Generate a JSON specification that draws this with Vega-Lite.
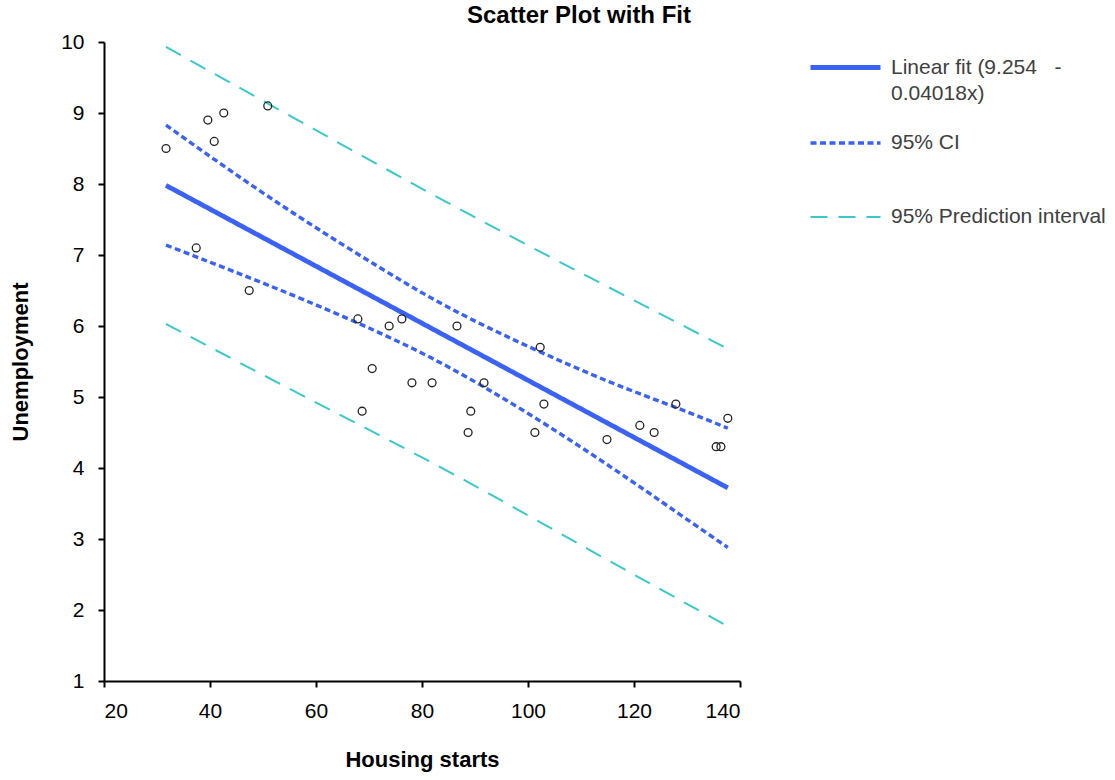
{
  "$schema": "https://vega.github.io/schema/vega-lite/v6.json",
  "width": 636,
  "height": 639,
  "autosize": {"type": "none"},
  "padding": {"left": 104, "top": 42, "right": 375, "bottom": 99},
  "background": "white",
  "title": {"text": "Scatter Plot with Fit", "anchor": "middle", "frame": "group", "dx": 157, "font": "Liberation Sans", "fontSize": 24, "fontWeight": "bold", "color": "black", "offset": 2},
  "config": {
    "view": {"stroke": null},
    "axis": {"domainColor": "black", "domainWidth": 2, "tickColor": "black", "tickWidth": 2, "tickSize": 6, "grid": false, "labelFont": "Liberation Sans", "labelFontSize": 21, "labelColor": "black", "titleFont": "Liberation Sans", "titleFontSize": 22, "titleFontWeight": "bold", "titleColor": "black"}
  },
  "datasets": {
    "points": [
      {"x": 31.7, "y": 8.5}, {"x": 39.6, "y": 8.9}, {"x": 42.6, "y": 9.0}, {"x": 40.8, "y": 8.6}, {"x": 50.9, "y": 9.1},
      {"x": 37.4, "y": 7.1}, {"x": 47.4, "y": 6.5}, {"x": 67.9, "y": 6.1}, {"x": 76.2, "y": 6.1}, {"x": 73.8, "y": 6.0},
      {"x": 70.6, "y": 5.4}, {"x": 68.7, "y": 4.8}, {"x": 78.1, "y": 5.2}, {"x": 81.9, "y": 5.2}, {"x": 86.6, "y": 6.0},
      {"x": 91.7, "y": 5.2}, {"x": 89.2, "y": 4.8}, {"x": 88.7, "y": 4.5}, {"x": 102.3, "y": 5.7}, {"x": 103.0, "y": 4.9},
      {"x": 101.3, "y": 4.5}, {"x": 114.9, "y": 4.4}, {"x": 121.1, "y": 4.6}, {"x": 123.8, "y": 4.5}, {"x": 127.9, "y": 4.9},
      {"x": 137.7, "y": 4.7}, {"x": 135.5, "y": 4.3}, {"x": 136.4, "y": 4.3}
    ],
    "lines": [
      {"series": "fit", "line": "fit", "x": 31.7, "y": 7.98}, {"series": "fit", "line": "fit", "x": 137.7, "y": 3.72},
      {"series": "ci", "line": "ciu", "x": 31.7, "y": 8.83}, {"series": "ci", "line": "ciu", "x": 44.4, "y": 8.16},
      {"series": "ci", "line": "ciu", "x": 58.0, "y": 7.48}, {"series": "ci", "line": "ciu", "x": 72.1, "y": 6.82},
      {"series": "ci", "line": "ciu", "x": 85.3, "y": 6.25}, {"series": "ci", "line": "ciu", "x": 100.4, "y": 5.70},
      {"series": "ci", "line": "ciu", "x": 115.5, "y": 5.21}, {"series": "ci", "line": "ciu", "x": 128.0, "y": 4.85},
      {"series": "ci", "line": "ciu", "x": 137.7, "y": 4.56},
      {"series": "ci", "line": "cil", "x": 31.7, "y": 7.14}, {"series": "ci", "line": "cil", "x": 44.4, "y": 6.77},
      {"series": "ci", "line": "cil", "x": 58.0, "y": 6.36}, {"series": "ci", "line": "cil", "x": 72.1, "y": 5.90},
      {"series": "ci", "line": "cil", "x": 85.3, "y": 5.41}, {"series": "ci", "line": "cil", "x": 100.4, "y": 4.75},
      {"series": "ci", "line": "cil", "x": 115.5, "y": 4.02}, {"series": "ci", "line": "cil", "x": 128.0, "y": 3.38},
      {"series": "ci", "line": "cil", "x": 137.7, "y": 2.88},
      {"series": "pi", "line": "piu", "x": 31.7, "y": 9.93}, {"series": "pi", "line": "piu", "x": 58.0, "y": 8.84},
      {"series": "pi", "line": "piu", "x": 85.0, "y": 7.73}, {"series": "pi", "line": "piu", "x": 112.0, "y": 6.67},
      {"series": "pi", "line": "piu", "x": 137.7, "y": 5.68},
      {"series": "pi", "line": "pil", "x": 31.7, "y": 6.03}, {"series": "pi", "line": "pil", "x": 58.0, "y": 5.00},
      {"series": "pi", "line": "pil", "x": 85.0, "y": 3.95}, {"series": "pi", "line": "pil", "x": 112.0, "y": 2.83},
      {"series": "pi", "line": "pil", "x": 137.7, "y": 1.77}
    ]
  },
  "layer": [
    {
      "data": {"name": "lines"},
      "mark": {"type": "line", "interpolate": "natural"},
      "encoding": {
        "x": {"field": "x", "type": "quantitative", "scale": {"domain": [20, 140], "nice": false, "zero": false},
              "axis": {"title": "Housing starts", "values": [20, 40, 60, 80, 100, 120, 140], "format": "d", "labelPadding": 13, "titlePadding": 28}},
        "y": {"field": "y", "type": "quantitative", "scale": {"domain": [1, 10], "nice": false, "zero": false},
              "axis": {"title": "Unemployment", "values": [1, 2, 3, 4, 5, 6, 7, 8, 9, 10], "format": "d", "labelPadding": 14, "titlePadding": 28}},
        "detail": {"field": "line"},
        "color": {"field": "series", "type": "nominal",
                  "scale": {"domain": ["fit", "ci", "pi"], "range": ["#3a63f5", "#3a63f5", "#3cc8c8"]},
                  "legend": {
                    "title": null, "orient": "none", "legendX": 704, "legendY": -12, "padding": 0,
                    "symbolType": "stroke", "symbolSize": 4900, "labelOffset": 8, "rowPadding": 2,
                    "labelFont": "Liberation Sans", "labelFontSize": 21, "labelColor": "#404040", "labelLimit": 400,
                    "labelExpr": "datum.value == 'fit' ? ['Linear fit (9.254\u00a0\u00a0 -', '0.04018x)'] : datum.value == 'ci' ? ['95% CI', ''] : ['95% Prediction interval', '']",
                    "encode": {"labels": {"update": {"lineHeight": {"value": 26}}}}
                  }},
        "strokeDash": {"field": "series", "type": "nominal",
                       "scale": {"domain": ["fit", "ci", "pi"], "range": [[1, 0], [6, 3.5], [17, 11]]}},
        "strokeWidth": {"field": "series", "type": "nominal",
                        "scale": {"domain": ["fit", "ci", "pi"], "range": [4.8, 2, 2.2]}}
      }
    },
    {
      "data": {"name": "points"},
      "mark": {"type": "point", "shape": "circle", "filled": false, "stroke": "#222222", "strokeWidth": 1.3, "size": 62, "opacity": 1},
      "encoding": {
        "x": {"field": "x", "type": "quantitative"},
        "y": {"field": "y", "type": "quantitative"}
      }
    }
  ]
}
